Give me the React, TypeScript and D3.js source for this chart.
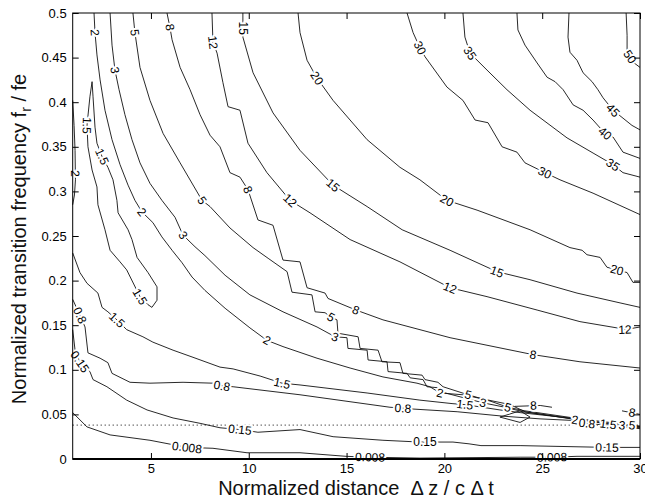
import React, { useEffect, useRef } from 'react';
import * as d3 from 'd3';

type Pt = [number, number];

// contour lines: [normalized distance, normalized frequency]
const line50: Pt[] = [[29.29, 0.5], [29.34, 0.475], [29.34, 0.455], [29.64, 0.445], [30, 0.439]];
const line45: Pt[] = [[26.37, 0.5], [26.32, 0.473], [26.42, 0.456], [26.78, 0.447], [27.09, 0.433], [27.55, 0.423], [27.85, 0.414], [28.11, 0.405], [28.62, 0.391], [29.08, 0.383], [29.59, 0.374], [30, 0.369]];
const line40: Pt[] = [[23.71, 0.5], [23.76, 0.481], [24.12, 0.464], [24.74, 0.444], [25.25, 0.428], [25.66, 0.423], [26.07, 0.414], [26.58, 0.397], [27.09, 0.391], [27.6, 0.38], [28.21, 0.365], [28.62, 0.361], [29.13, 0.344], [30, 0.337]];
const line35: Pt[] = [[20.95, 0.5], [21.05, 0.473], [21.31, 0.455], [22.18, 0.436], [23.2, 0.414], [24.38, 0.391], [26.27, 0.36], [27.6, 0.343], [28.62, 0.33], [29.13, 0.321], [30, 0.316]];
const line30: Pt[] = [[18.09, 0.5], [18.4, 0.478], [18.75, 0.461], [19.01, 0.451], [20.13, 0.417], [20.95, 0.402], [21.57, 0.38], [22.23, 0.377], [22.95, 0.35], [23.71, 0.344], [24.12, 0.332], [25.14, 0.321], [25.91, 0.313], [27.6, 0.298], [30, 0.274]];
const line20: Pt[] = [[12.52, 0.5], [12.62, 0.478], [12.98, 0.447], [13.49, 0.427], [14.31, 0.402], [16.05, 0.358], [17.73, 0.327], [18.75, 0.313], [20.13, 0.29], [21.67, 0.279], [24.38, 0.257], [26.42, 0.237], [27.04, 0.234], [27.29, 0.229], [27.96, 0.226], [28.31, 0.215], [28.82, 0.212], [29.34, 0.209], [29.64, 0.198], [30, 0.198]];
const line15: Pt[] = [[9.7, 0.5], [9.7, 0.473], [10.22, 0.433], [11.24, 0.388], [12.62, 0.346], [14.31, 0.307], [16.05, 0.283], [17.84, 0.257], [20.29, 0.234], [22.69, 0.21], [24.38, 0.201], [26.78, 0.186], [28.98, 0.175], [30, 0.17]];
const line12: Pt[] = [[8.12, 0.5], [8.17, 0.467], [8.38, 0.455], [8.68, 0.422], [8.94, 0.395], [9.55, 0.391], [9.96, 0.354], [10.93, 0.321], [12.11, 0.29], [13.13, 0.276], [15.18, 0.246], [17.73, 0.221], [20.29, 0.192], [22.18, 0.182], [24.74, 0.167], [26.93, 0.154], [28.82, 0.147], [29.23, 0.145], [30, 0.148]];
const line8: Pt[] = [[5.82, 0.5], [5.97, 0.484], [6.08, 0.47], [6.49, 0.439], [7.0, 0.414], [7.51, 0.386], [8.02, 0.363], [8.53, 0.35], [9.04, 0.321], [9.55, 0.316], [9.96, 0.302], [10.47, 0.268], [11.24, 0.262], [11.75, 0.223], [12.62, 0.221], [12.98, 0.192], [13.9, 0.186], [14.05, 0.18], [15.48, 0.167], [16.86, 0.156], [20.29, 0.136], [24.53, 0.117], [26.93, 0.109], [30, 0.102]];
const line8b: Pt[] = [[23.6, 0.059], [24.9, 0.06], [25.5, 0.058]];
const line8c: Pt[] = [[29.08, 0.054], [30, 0.05]];
const line5: Pt[] = [[4.08, 0.5], [4.18, 0.478], [4.44, 0.439], [4.95, 0.402], [5.62, 0.365], [6.49, 0.332], [7.61, 0.29], [8.02, 0.283], [9.04, 0.259], [10.22, 0.237], [10.99, 0.225], [11.96, 0.21], [12.21, 0.187], [13.23, 0.184], [13.39, 0.165], [13.9, 0.164], [14.2, 0.159], [14.51, 0.156], [14.56, 0.141], [15.59, 0.137], [15.69, 0.124], [16.61, 0.122], [16.81, 0.109], [17.73, 0.108], [17.88, 0.096], [18.86, 0.094], [19.01, 0.089], [19.67, 0.086], [19.93, 0.081], [21.21, 0.072], [22.33, 0.065], [23.25, 0.058], [24.12, 0.054], [26.93, 0.045], [29.59, 0.038], [30, 0.037]];
const line5b: Pt[] = [[22.84, 0.047], [23.87, 0.054], [24.38, 0.047], [23.87, 0.041], [22.84, 0.047]];
const line3: Pt[] = [[2.91, 0.5], [3.01, 0.464], [3.16, 0.436], [3.37, 0.414], [3.67, 0.386], [4.03, 0.358], [4.44, 0.332], [4.95, 0.309], [5.56, 0.29], [6.23, 0.271], [6.64, 0.251], [7.25, 0.238], [7.76, 0.228], [8.79, 0.206], [10.06, 0.184], [11.75, 0.165], [13.49, 0.148], [14.41, 0.137], [15.02, 0.136], [15.07, 0.124], [16.05, 0.122], [16.1, 0.111], [17.07, 0.109], [17.12, 0.098], [18.09, 0.096], [18.25, 0.091], [18.91, 0.089], [19.11, 0.081], [19.62, 0.08], [19.88, 0.075], [21.97, 0.063], [23.1, 0.058], [24.02, 0.053], [26.93, 0.044], [29.08, 0.038], [30, 0.036]];
const line2: Pt[] = [[2.09, 0.5], [2.14, 0.478], [2.24, 0.453], [2.4, 0.425], [2.65, 0.391], [3.01, 0.358], [3.42, 0.33], [3.83, 0.307], [4.18, 0.29], [4.54, 0.277], [5.1, 0.265], [5.56, 0.249], [6.08, 0.234], [6.59, 0.22], [7.1, 0.204], [7.76, 0.189], [8.79, 0.169], [10.06, 0.147], [10.93, 0.133], [11.75, 0.126], [13.49, 0.113], [15.18, 0.102], [16.86, 0.092], [18.6, 0.085], [19.26, 0.081], [19.78, 0.074], [20.95, 0.072], [21.82, 0.068], [23.36, 0.061], [24.12, 0.053], [26.78, 0.044], [30, 0.036]];
const line2edge: Pt[] = [[1, 0.402], [1.07, 0.374], [1.12, 0.346], [1.14, 0.313], [1.09, 0.296], [1, 0.285]];
const line1p5: Pt[] = [[1, 0.231], [1.37, 0.209], [1.73, 0.197], [2.29, 0.186], [2.5, 0.17], [2.8, 0.165], [3.26, 0.156], [3.76, 0.145], [4.59, 0.137], [5.1, 0.131], [6.13, 0.122], [7.15, 0.114], [8.53, 0.103], [9.2, 0.101], [10.58, 0.093], [11.7, 0.085], [12.62, 0.083], [16.05, 0.074], [18.75, 0.066], [20.44, 0.062], [21.05, 0.061], [22.84, 0.055], [23.87, 0.052], [26.78, 0.045], [28.37, 0.039], [30, 0.035]];
const loop1p5: Pt[] = [[1.99, 0.423], [1.88, 0.406], [1.73, 0.374], [1.78, 0.35], [1.99, 0.324], [2.24, 0.305], [2.29, 0.285], [2.65, 0.257], [2.91, 0.234], [3.42, 0.221], [3.76, 0.212], [4.44, 0.182], [4.85, 0.173], [5.05, 0.17], [5.31, 0.178], [5.31, 0.193], [4.85, 0.209], [4.29, 0.226], [4.03, 0.246], [3.83, 0.257], [3.32, 0.276], [3.26, 0.29], [3.06, 0.313], [2.8, 0.327], [2.5, 0.339], [2.24, 0.354], [2.14, 0.372], [2.04, 0.406], [1.99, 0.423]];
const line0p8: Pt[] = [[1, 0.179], [1.37, 0.161], [1.63, 0.148], [1.78, 0.119], [2.4, 0.113], [2.8, 0.108], [3.01, 0.096], [3.93, 0.086], [4.95, 0.085], [6.64, 0.086], [8.17, 0.085], [8.63, 0.082], [9.2, 0.081], [12.62, 0.072], [17.22, 0.058], [17.88, 0.057], [18.4, 0.056], [20.65, 0.053], [23.0, 0.048], [24.89, 0.045], [26.78, 0.043], [27.29, 0.04], [30, 0.034]];
const line0p15: Pt[] = [[1, 0.145], [1.12, 0.122], [1.37, 0.109], [1.88, 0.098], [2.04, 0.089], [2.75, 0.081], [3.76, 0.066], [4.8, 0.055], [6.13, 0.046], [7.51, 0.04], [8.53, 0.035], [9.55, 0.033], [10.47, 0.03], [12.62, 0.033], [14.31, 0.025], [16.86, 0.021], [18.75, 0.019], [20.44, 0.019], [21.26, 0.017], [21.87, 0.015], [23.87, 0.015], [28.31, 0.013], [30, 0.013]];
const line0p008: Pt[] = [[1, 0.052], [1.73, 0.036], [2.91, 0.027], [4.95, 0.021], [6.84, 0.013], [8.17, 0.012], [9.91, 0.007], [12.62, 0.007], [14.97, 0.003], [16.2, 0.002], [18.75, 0.001], [23.87, 0.002], [25.5, 0.002], [26.78, 0.003], [30, 0.003]];

// where the inline labels sit on each line
const labels50: Pt[] = [[29.49, 0.451]];
const labels45: Pt[] = [[28.62, 0.391]];
const labels40: Pt[] = [[28.21, 0.365]];
const labels35: Pt[] = [[21.31, 0.455], [28.62, 0.33]];
const labels30: Pt[] = [[18.75, 0.461], [25.14, 0.321]];
const labels20: Pt[] = [[13.49, 0.427], [20.13, 0.29], [28.82, 0.212]];
const labels15: Pt[] = [[9.7, 0.483], [14.31, 0.307], [22.69, 0.21]];
const labels12: Pt[] = [[8.17, 0.467], [12.11, 0.29], [20.29, 0.192], [29.23, 0.145]];
const labels8: Pt[] = [[5.97, 0.484], [9.96, 0.302], [15.48, 0.167], [24.53, 0.117]];
const labels8b: Pt[] = [[24.55, 0.06]];
const labels8c: Pt[] = [[29.59, 0.052]];
const labels5: Pt[] = [[4.18, 0.478], [7.61, 0.29], [14.2, 0.159], [21.21, 0.072], [23.25, 0.058], [29.59, 0.038]];
const labels3: Pt[] = [[3.16, 0.436], [6.64, 0.251], [14.41, 0.137], [21.97, 0.063], [29.08, 0.038]];
const labels2: Pt[] = [[2.14, 0.478], [4.54, 0.277], [10.93, 0.133], [19.78, 0.074], [26.68, 0.044]];
const labels2edge: Pt[] = [[1.13, 0.32]];
const labels1p5: Pt[] = [[3.26, 0.156], [11.7, 0.085], [21.05, 0.061], [28.37, 0.039]];
const labelsLoop: Pt[] = [[1.73, 0.374], [2.5, 0.339], [4.44, 0.182]];
const labels0p8: Pt[] = [[1.37, 0.161], [8.63, 0.082], [17.88, 0.057], [27.29, 0.04]];
const labels0p15: Pt[] = [[1.37, 0.109], [9.55, 0.033], [19.01, 0.019], [28.31, 0.013]];
const labels0p008: Pt[] = [[6.84, 0.013], [16.2, 0.002], [25.5, 0.002]];

const dottedLevel = 0.038;
const xTicks = [5, 10, 15, 20, 25, 30];
const yTicks = [0, 0.05, 0.1, 0.15, 0.2, 0.25, 0.3, 0.35, 0.4, 0.45, 0.5];

const contours = [
  { text: '50', pts: line50, labels: labels50 },
  { text: '45', pts: line45, labels: labels45 },
  { text: '40', pts: line40, labels: labels40 },
  { text: '35', pts: line35, labels: labels35 },
  { text: '30', pts: line30, labels: labels30 },
  { text: '20', pts: line20, labels: labels20 },
  { text: '15', pts: line15, labels: labels15 },
  { text: '12', pts: line12, labels: labels12 },
  { text: '8', pts: line8, labels: labels8 },
  { text: '8', pts: line8b, labels: labels8b },
  { text: '8', pts: line8c, labels: labels8c },
  { text: '5', pts: line5, labels: labels5 },
  { text: '5', pts: line5b, labels: [] as Pt[] },
  { text: '3', pts: line3, labels: labels3 },
  { text: '2', pts: line2, labels: labels2 },
  { text: '2', pts: line2edge, labels: labels2edge },
  { text: '1.5', pts: line1p5, labels: labels1p5 },
  { text: '1.5', pts: loop1p5, labels: labelsLoop },
  { text: '0.8', pts: line0p8, labels: labels0p8 },
  { text: '0.15', pts: line0p15, labels: labels0p15 },
  { text: '0.008', pts: line0p008, labels: labels0p008 },
];

const FONT = 'Liberation Sans, Arial, Helvetica, sans-serif';

const ContourChart = () => {
  const ref = useRef<SVGSVGElement>(null);

  useEffect(() => {
    const svg = d3.select(ref.current);
    svg.selectAll('*').remove();

    const x = d3.scaleLinear().domain([1, 30]).range([72.7, 640]);
    const y = d3.scaleLinear().domain([0, 0.5]).range([459, 13]);

    const line = d3.line<Pt>()
      .x(d => x(d[0]))
      .y(d => y(d[1]));

    // angle of the line under a label, so the text follows it
    const labelAngle = (pts: Pt[], p: Pt) => {
      const px = x(p[0]);
      const py = y(p[1]);
      const P = pts.map(d => [x(d[0]), y(d[1])]);
      let dx = 1;
      let dy = 0;
      let vi = -1;
      P.forEach((q, i) => {
        if (Math.hypot(q[0] - px, q[1] - py) < 1.5) vi = i;
      });
      if (vi >= 0) {
        const a = P[Math.max(0, vi - 1)];
        const b = P[Math.min(P.length - 1, vi + 1)];
        dx = b[0] - a[0];
        dy = b[1] - a[1];
      } else {
        let best = Infinity;
        for (let i = 0; i < P.length - 1; i++) {
          const sx = P[i + 1][0] - P[i][0];
          const sy = P[i + 1][1] - P[i][1];
          const len2 = sx * sx + sy * sy || 1;
          const t = Math.max(0, Math.min(1, ((px - P[i][0]) * sx + (py - P[i][1]) * sy) / len2));
          const d = Math.hypot(P[i][0] + t * sx - px, P[i][1] + t * sy - py);
          if (d < best) { best = d; dx = sx; dy = sy; }
        }
      }
      let ang = Math.atan2(dy, dx) * 180 / Math.PI;
      while (ang > 95) ang -= 180;
      while (ang <= -85) ang += 180;
      return ang;
    };

    // dotted reference level
    svg.append('line')
      .attr('x1', x(1)).attr('x2', x(30))
      .attr('y1', y(dottedLevel)).attr('y2', y(dottedLevel))
      .attr('stroke', '#000')
      .attr('stroke-width', 1)
      .attr('stroke-dasharray', '1,3');

    // contour lines
    svg.append('g')
      .selectAll('path')
      .data(contours)
      .enter().append('path')
      .attr('d', d => line(d.pts))
      .attr('fill', 'none')
      .attr('stroke', '#111')
      .attr('stroke-width', 0.9)
      .attr('stroke-linejoin', 'round');

    // inline labels with a white halo that cuts the line
    const labelRows = contours.flatMap(c => c.labels.map(p => ({ text: c.text, p, pts: c.pts })));
    svg.append('g')
      .selectAll('text')
      .data(labelRows)
      .enter().append('text')
      .attr('transform', d => `translate(${x(d.p[0])},${y(d.p[1])}) rotate(${labelAngle(d.pts, d.p)})`)
      .attr('text-anchor', 'middle')
      .attr('dy', '0.35em')
      .attr('font-family', FONT)
      .attr('font-size', '12px')
      .attr('fill', '#000')
      .attr('stroke', '#fff')
      .attr('stroke-width', 4)
      .attr('stroke-linejoin', 'round')
      .attr('paint-order', 'stroke')
      .text(d => d.text);

    // axes, ticks pointing inward on all four sides
    const xAxis = d3.axisBottom(x).tickValues(xTicks).tickSizeInner(-6).tickSizeOuter(0).tickPadding(5);
    const yAxis = d3.axisLeft(y).tickValues(yTicks).tickSizeInner(-6).tickSizeOuter(0).tickPadding(6)
      .tickFormat(d => String(d));
    const xTop = d3.axisTop(x).tickValues(xTicks).tickSizeInner(-6).tickSizeOuter(0).tickFormat(() => '');
    const yRight = d3.axisRight(y).tickValues(yTicks).tickSizeInner(-6).tickSizeOuter(0).tickFormat(() => '');

    svg.append('g').attr('transform', `translate(0,${y(0)})`).call(xAxis);
    svg.append('g').attr('transform', `translate(${x(1)},0)`).call(yAxis);
    svg.append('g').attr('transform', `translate(0,${y(0.5)})`).call(xTop);
    svg.append('g').attr('transform', `translate(${x(30)},0)`).call(yRight);

    svg.selectAll('path.domain').remove();
    svg.selectAll('.tick line').attr('stroke', '#000').attr('stroke-width', 1);
    svg.selectAll('.tick text')
      .attr('fill', '#000')
      .attr('font-family', FONT)
      .attr('font-size', '13px');

    svg.append('rect')
      .attr('x', x(1)).attr('y', y(0.5))
      .attr('width', x(30) - x(1)).attr('height', y(0) - y(0.5))
      .attr('fill', 'none')
      .attr('stroke', '#000')
      .attr('stroke-width', 1);
    svg.append('line')
      .attr('x1', x(1)).attr('x2', x(30))
      .attr('y1', y(0)).attr('y2', y(0))
      .attr('stroke', '#000')
      .attr('stroke-width', 2);

    // axis titles
    svg.append('text')
      .attr('x', 356)
      .attr('y', 495)
      .attr('text-anchor', 'middle')
      .attr('font-family', FONT)
      .attr('font-size', '20px')
      .attr('fill', '#111')
      .style('white-space', 'pre')
      .text('Normalized distance  \u0394 z / c \u0394 t');

    const yTitle = svg.append('text')
      .attr('transform', 'translate(26,239) rotate(-90)')
      .attr('text-anchor', 'middle')
      .attr('font-family', FONT)
      .attr('font-size', '20px')
      .attr('fill', '#111')
      .style('white-space', 'pre');
    yTitle.append('tspan').text('Normalized transition frequency f');
    yTitle.append('tspan').attr('dy', 5).attr('font-size', '14px').text('r');
    yTitle.append('tspan').attr('dy', -5).text(' / fe');
  }, []);

  return (
    <svg
      ref={ref}
      width="645"
      height="499"
      style={{ position: 'absolute', left: 0, top: 0, background: '#fff' }}
    ></svg>
  );
};

export default function App() {
  return <ContourChart />;
}
